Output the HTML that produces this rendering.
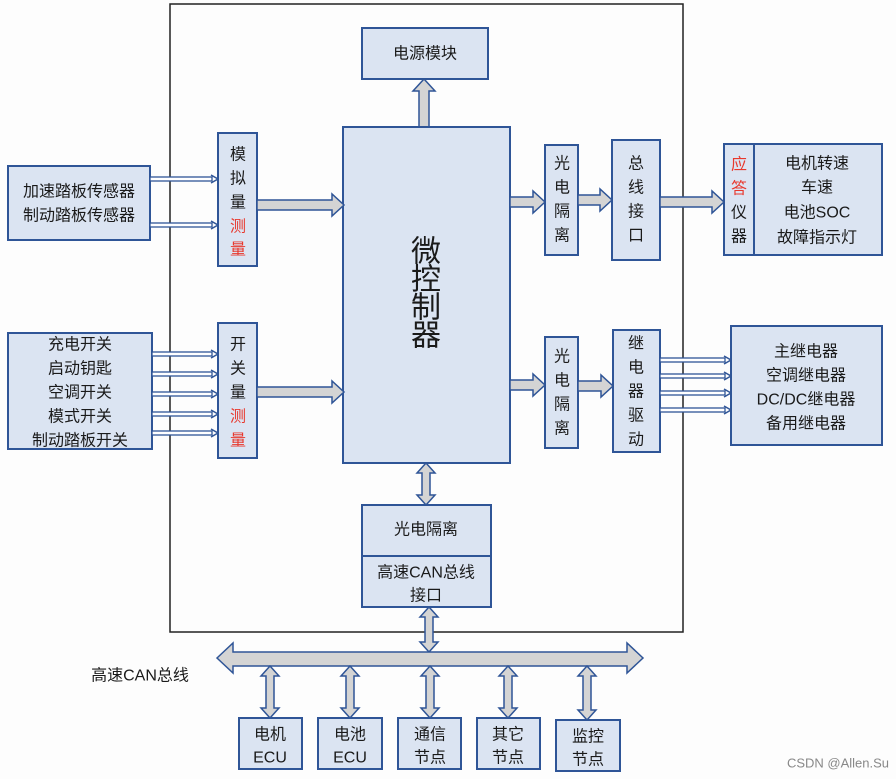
<!DOCTYPE html>
<html><head><meta charset="utf-8"><style>
html,body{margin:0;padding:0;background:#fff;}
svg{display:block;}
text{font-family:"Liberation Sans","Noto Sans CJK SC",sans-serif;font-size:16px;fill:#1a1a1a;text-anchor:middle;dominant-baseline:central;}
.b{fill:#dbe4f2;stroke:#2f5597;stroke-width:2;}
.g{fill:#d4d4d4;stroke:#2f5597;stroke-width:1.5;}
.t{fill:#fff;stroke:#2f5597;stroke-width:1.3;}
.h{fill:none;stroke:#2f5597;stroke-width:1.5;}
.r{fill:#e8382d;}
</style></head><body>
<svg width="896" height="779" viewBox="0 0 896 779" xmlns="http://www.w3.org/2000/svg">
<rect x="0" y="0" width="896" height="779" fill="#fdfdfd"/>
<rect x="170" y="4" width="513" height="628" fill="none" stroke="#222" stroke-width="1.5"/>

<rect class="b" x="362" y="28" width="126" height="51"/>
<text x="425" y="54">电源模块</text>
<polygon class="g" points="419,127 419,91 413,91 424,79 435,91 429,91 429,127"/>

<rect class="b" x="343" y="127" width="167" height="336"/>
<text x="426" y="252" style="font-size:30px">微</text>
<text x="426" y="280" style="font-size:30px">控</text>
<text x="426" y="308" style="font-size:30px">制</text>
<text x="426" y="336" style="font-size:30px">器</text>

<rect class="b" x="8" y="166" width="142" height="74"/>
<text x="79" y="192">加速踏板传感器</text>
<text x="79" y="216">制动踏板传感器</text>
<rect class="t" x="150" y="177" width="62" height="4"/><polyline class="h" points="211,175 218,179 211,183"/>
<rect class="t" x="150" y="223" width="62" height="4"/><polyline class="h" points="211,221 218,225 211,229"/>

<rect class="b" x="218" y="133" width="39" height="133"/>
<text x="238" y="155">模</text><text x="238" y="179">拟</text><text x="238" y="203">量</text>
<text x="238" y="227" class="r">测</text><text x="238" y="250" class="r">量</text>
<polygon class="g" points="257,200 332,200 332,194 344,205 332,216 332,210 257,210"/>

<rect class="b" x="8" y="333" width="144" height="116"/>
<text x="80" y="345">充电开关</text>
<text x="80" y="369">启动钥匙</text>
<text x="80" y="393">空调开关</text>
<text x="80" y="417">模式开关</text>
<text x="80" y="441">制动踏板开关</text>
<rect class="t" x="152" y="352" width="60" height="4"/><polyline class="h" points="211,350 218,354 211,358"/>
<rect class="t" x="152" y="372" width="60" height="4"/><polyline class="h" points="211,370 218,374 211,378"/>
<rect class="t" x="152" y="392" width="60" height="4"/><polyline class="h" points="211,390 218,394 211,398"/>
<rect class="t" x="152" y="412" width="60" height="4"/><polyline class="h" points="211,410 218,414 211,418"/>
<rect class="t" x="152" y="431" width="60" height="4"/><polyline class="h" points="211,429 218,433 211,437"/>

<rect class="b" x="218" y="323" width="39" height="135"/>
<text x="238" y="345">开</text><text x="238" y="369">关</text><text x="238" y="393">量</text>
<text x="238" y="417" class="r">测</text><text x="238" y="441" class="r">量</text>
<polygon class="g" points="257,387 332,387 332,381 344,392 332,403 332,397 257,397"/>

<polygon class="g" points="510,197 533,197 533,191 545,202 533,213 533,207 510,207"/>
<rect class="b" x="545" y="145" width="33" height="110"/>
<text x="562" y="164">光</text><text x="562" y="188">电</text><text x="562" y="212">隔</text><text x="562" y="236">离</text>
<polygon class="g" points="578,195 600,195 600,189 612,200 600,211 600,205 578,205"/>
<rect class="b" x="612" y="140" width="48" height="120"/>
<text x="636" y="164">总</text><text x="636" y="188">线</text><text x="636" y="212">接</text><text x="636" y="236">口</text>
<polygon class="g" points="660,197 712,197 712,191 724,202 712,213 712,207 660,207"/>
<rect class="b" x="724" y="144" width="158" height="111"/>
<line x1="754" y1="144" x2="754" y2="255" stroke="#2f5597" stroke-width="2"/>
<text x="739" y="165" class="r">应</text><text x="739" y="189" class="r">答</text><text x="739" y="213">仪</text><text x="739" y="237">器</text>
<text x="817" y="164">电机转速</text>
<text x="817" y="188">车速</text>
<text x="817" y="213">电池SOC</text>
<text x="817" y="238">故障指示灯</text>

<polygon class="g" points="510,380 533,380 533,374 545,385 533,396 533,390 510,390"/>
<rect class="b" x="545" y="337" width="33" height="111"/>
<text x="562" y="357">光</text><text x="562" y="381">电</text><text x="562" y="405">隔</text><text x="562" y="429">离</text>
<polygon class="g" points="578,381 601,381 601,375 613,386 601,397 601,391 578,391"/>
<rect class="b" x="613" y="330" width="47" height="122"/>
<text x="636" y="344">继</text><text x="636" y="368">电</text><text x="636" y="392">器</text><text x="636" y="416">驱</text><text x="636" y="440">动</text>
<rect class="t" x="660" y="358" width="65" height="4"/><polyline class="h" points="724,356 731,360 724,364"/>
<rect class="t" x="660" y="374" width="65" height="4"/><polyline class="h" points="724,372 731,376 724,380"/>
<rect class="t" x="660" y="391" width="65" height="4"/><polyline class="h" points="724,389 731,393 724,397"/>
<rect class="t" x="660" y="408" width="65" height="4"/><polyline class="h" points="724,406 731,410 724,414"/>
<rect class="b" x="731" y="326" width="151" height="119"/>
<text x="806" y="352">主继电器</text>
<text x="806" y="376">空调继电器</text>
<text x="806" y="400">DC/DC继电器</text>
<text x="806" y="424">备用继电器</text>

<polygon class="g" points="422,473 417,473 426,463 435,473 430,473 430,495 435,495 426,505 417,495 422,495"/>
<rect class="b" x="362" y="505" width="129" height="102"/>
<line x1="362" y1="556" x2="491" y2="556" stroke="#2f5597" stroke-width="2"/>
<text x="426" y="530">光电隔离</text>
<text x="426" y="573">高速CAN总线</text>
<text x="426" y="596">接口</text>
<polygon class="g" points="425,617 420,617 429,607 438,617 433,617 433,642 438,642 429,652 420,642 425,642"/>

<polygon class="g" points="217,658 233,643 233,652 627,652 627,643 643,658 627,673 627,666 233,666 233,673"/>
<text x="140" y="676">高速CAN总线</text>

<g>
<polygon class="g" points="266,676 261,676 270,666 279,676 274,676 274,708 279,708 270,718 261,708 266,708"/>
<polygon class="g" points="346,676 341,676 350,666 359,676 354,676 354,708 359,708 350,718 341,708 346,708"/>
<polygon class="g" points="426,676 421,676 430,666 439,676 434,676 434,708 439,708 430,718 421,708 426,708"/>
<polygon class="g" points="504,676 499,676 508,666 517,676 512,676 512,708 517,708 508,718 499,708 504,708"/>
<polygon class="g" points="583,676 578,676 587,666 596,676 591,676 591,710 596,710 587,720 578,710 583,710"/>
</g>
<rect class="b" x="239" y="718" width="63" height="51"/>
<text x="270" y="735">电机</text><text x="270" y="758">ECU</text>
<rect class="b" x="318" y="718" width="64" height="51"/>
<text x="350" y="735">电池</text><text x="350" y="758">ECU</text>
<rect class="b" x="398" y="718" width="63" height="51"/>
<text x="430" y="735">通信</text><text x="430" y="758">节点</text>
<rect class="b" x="477" y="718" width="63" height="51"/>
<text x="508" y="735">其它</text><text x="508" y="758">节点</text>
<rect class="b" x="556" y="720" width="64" height="51"/>
<text x="588" y="737">监控</text><text x="588" y="760">节点</text>

<text x="838" y="763" style="font-size:13px;fill:#888">CSDN @Allen.Su</text>
</svg>
</body></html>
